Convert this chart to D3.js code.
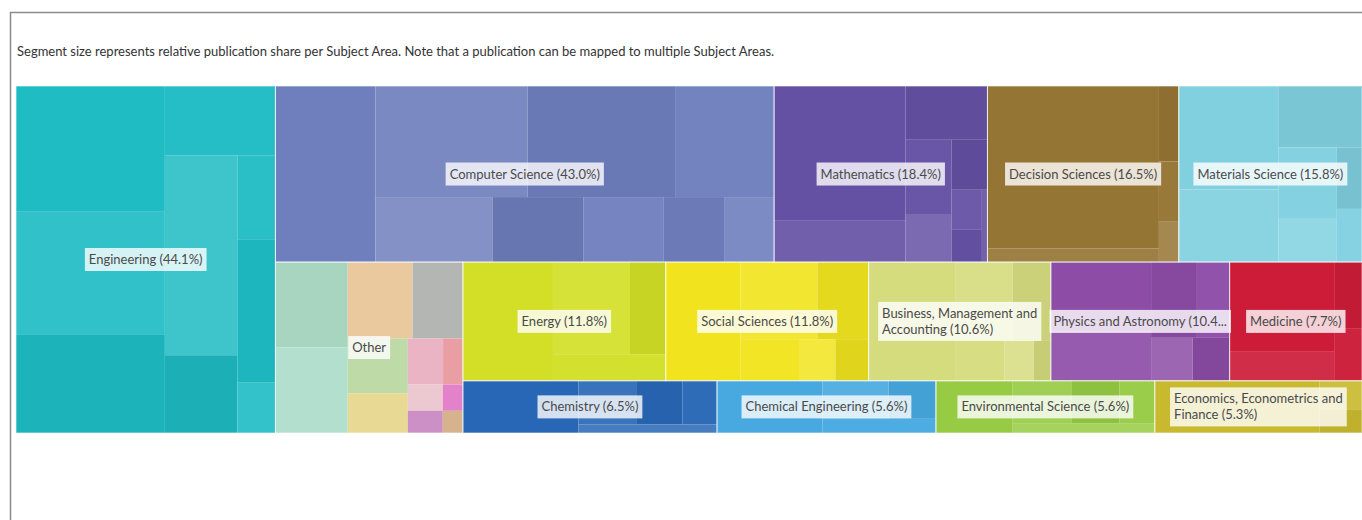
<!DOCTYPE html>
<html>
<head>
<meta charset="utf-8">
<script src="https://cdn.jsdelivr.net/npm/d3@7"></script>
<style>
    body { margin: 0; background: #fff; }
    svg { display: block; font-family: Lato, 'Open Sans', sans-serif; }
</style>
</head>
<body>
<svg id="chart" width="1362" height="520"></svg>
<script>
//Datos
const NOTE = 'Segment size represents relative publication share per Subject Area. Note that a publication can be mapped to multiple Subject Areas.';

const subjects = ['Engineering', 'Computer Science', 'Mathematics', 'Decision Sciences', 'Materials Science', 'Other',
    'Energy', 'Social Sciences', 'Business, Management and Accounting', 'Physics and Astronomy', 'Medicine',
    'Chemistry', 'Chemical Engineering', 'Environmental Science', 'Economics, Econometrics and Finance'];

const shares = [44.1, 43.0, 18.4, 16.5, 15.8, 15.7, 11.8, 11.8, 10.6, 10.4, 7.7, 6.5, 5.6, 5.6, 5.3];

//Sub-areas inside each subject (relative weights)
const subShares = [
    [18.6, 18.2, 14.5, 7.6, 14.4, 5.6, 3.2, 5.4, 1.9],
    [17.6, 16.9, 16.4, 11.0, 7.6, 5.9, 5.2, 4.0, 3.2],
    [17.6, 5.5, 4.4, 3.4, 2.2, 1.8, 1.2, 1.0, 0.4],
    [27.9, 2.3, 1.5, 1.2, 0.8],
    [10.0, 7.0, 5.0, 4.0, 2.5, 1.5, 1.3],
    null,
    [10.7, 7.1, 3.3, 3.0],
    [9.0, 6.0, 4.0, 2.5, 1.5, 1.4],
    [10.3, 4.5, 3.0, 2.0, 1.2, 0.7],
    [7.0, 5.0, 3.5, 2.5, 1.8, 1.6],
    [9.0, 3.0, 1.8, 1.4],
    [6.0, 2.5, 2.0, 1.5, 1.2],
    [5.5, 2.5, 1.8, 1.6],
    [4.0, 2.5, 2.0, 1.5, 1.4],
    [8.5, 1.2, 1.0]
];

//Small subject areas grouped under "Other"
const otherShares = [6.1, 6.1, 4.9, 3.8, 3.25, 2.35, 1.6, 0.9, 0.9, 0.77, 0.52, 0.44];

//Labels that wrap on two lines instead of being cut
const wrapLabels = ['Business, Management and Accounting', 'Economics, Econometrics and Finance'];

//Colores
const subjectColors = ['#1fbcc4', '#6f7fbe', '#6551a4', '#957534', '#80d0e0', '#a9d6c3',
    '#d2df26', '#f1e41e', '#d5dc7e', '#8d4da7', '#cc1c38',
    '#2867b6', '#47a9e0', '#97cb44', '#c9b92f'];
const otherColors = ['#a8d5c0', '#b3dfce', '#eac99e', '#b4b6b4', '#bddaa7', '#e8d995',
    '#ebb4c4', '#e99ea4', '#ecc8d0', '#cc90c6', '#e381cb', '#d6b38d'];
const SHADE = [0, 0.08, -0.05, 0.03, 0.14, -0.07, 0.05, -0.03, 0.09, -0.04];

//Tint toward white or shade toward black
function shade(c, j) {
    let s = SHADE[j % SHADE.length];
    return s >= 0 ? d3.interpolateRgb(c, '#ffffff')(s) : d3.interpolateRgb(c, '#000000')(-s);
}

//Tiling: squarified with alternating direction (column, row, column...)
function ratio(a, b) { return Math.max(a / b, b / a); }

function tileAlternate(parent, x0, y0, x1, y1) {
    let nodes = parent.children;
    let scale = (x1 - x0) * (y1 - y0) / parent.value;
    let dir = 0, i = 0;
    while (i < nodes.length) {
        let w = x1 - x0, h = y1 - y0;
        let group = [nodes[i]], sum = nodes[i].value * scale, j = i + 1;
        while (j < nodes.length) {
            let lastArea = group[group.length - 1].value * scale;
            let newSum = sum + nodes[j].value * scale;
            let oldSide = dir === 0 ? sum / h : sum / w;
            let newSide = dir === 0 ? newSum / h : newSum / w;
            if (ratio(newSide, lastArea / newSide) > ratio(oldSide, lastArea / oldSide)) break;
            group.push(nodes[j]);
            sum = newSum;
            j++;
        }
        let last = j >= nodes.length;
        if (dir === 0) {
            let gw = last ? w : sum / h, yy = y0;
            group.forEach(function(n, k) {
                n.x0 = x0; n.x1 = x0 + gw; n.y0 = yy;
                yy = (k === group.length - 1) ? y1 : yy + n.value * scale / gw;
                n.y1 = yy;
            });
            x0 += gw;
        } else {
            let gh = last ? h : sum / w, xx = x0;
            group.forEach(function(n, k) {
                n.y0 = y0; n.y1 = y0 + gh; n.x0 = xx;
                xx = (k === group.length - 1) ? x1 : xx + n.value * scale / gh;
                n.x1 = xx;
            });
            y0 += gh;
        }
        dir = 1 - dir;
        i = j;
    }
}

//Jerarquía
let data = { children: subjects.map(function(name, i) {
    let isOther = name === 'Other';
    let weights = isOther ? otherShares : subShares[i];
    let tot = d3.sum(weights);
    return {
        name: name, share: shares[i], color: subjectColors[i],
        children: weights.map(function(v, j) {
            return { value: shares[i] * v / tot, color: isOther ? otherColors[j] : shade(subjectColors[i], j) };
        })
    };
}) };

let margin = { top: 86, left: 16 },
    width = 1346, height = 347;

let svg = d3.select('#chart');

//Marco
svg.append('path')
    .attr('d', 'M10.5,520 V12.5 H1362')
    .attr('fill', 'none')
    .attr('stroke', '#8a8a8a')
    .attr('stroke-width', 1.5);

svg.append('text')
    .attr('x', 17)
    .attr('y', 56)
    .attr('font-size', 13)
    .attr('fill', '#333')
    .text(NOTE);

let root = d3.hierarchy(data).sum(function(d) { return d.value || 0; });
d3.treemap().size([width, height]).tile(tileAlternate)(root);

let g = svg.append('g').attr('transform', 'translate(' + margin.left + ',' + margin.top + ')');

g.selectAll('.leaf')
    .data(root.leaves())
    .enter()
    .append('rect')
    .attr('class', 'leaf')
    .attr('x', function(d) { return d.x0; })
    .attr('y', function(d) { return d.y0; })
    .attr('width', function(d) { return d.x1 - d.x0; })
    .attr('height', function(d) { return d.y1 - d.y0; })
    .attr('fill', function(d) { return d.data.color; });

g.selectAll('.subject')
    .data(root.children)
    .enter()
    .append('rect')
    .attr('class', 'subject')
    .attr('x', function(d) { return d.x0; })
    .attr('y', function(d) { return d.y0; })
    .attr('width', function(d) { return d.x1 - d.x0; })
    .attr('height', function(d) { return d.y1 - d.y0; })
    .attr('fill', 'none')
    .attr('stroke', 'rgba(255,255,255,0.6)')
    .attr('stroke-width', 1);

//Etiquetas
let labels = g.append('g');
root.children.forEach(function(n) {
    let cw = n.x1 - n.x0, cx = (n.x0 + n.x1) / 2, cy = (n.y0 + n.y1) / 2;
    let txt = n.data.name === 'Other' ? 'Other' : n.data.name + ' (' + n.data.share.toFixed(1) + '%)';
    let lg = labels.append('g');
    let box = lg.append('rect');
    let t = lg.append('text').attr('font-size', 13).attr('fill', '#4a4a4a');
    let measure = function(s) { t.text(s); return t.node().getComputedTextLength(); };
    let maxW = cw - 6;
    let lines = [txt];

    if (measure(txt) > maxW) {
        if (wrapLabels.indexOf(n.data.name) > -1) {
            lines = [];
            let cur = '';
            txt.split(' ').forEach(function(word) {
                let test = cur ? cur + ' ' + word : word;
                if (cur && measure(test) > maxW - 10) { lines.push(cur); cur = word; }
                else { cur = test; }
            });
            lines.push(cur);
        } else {
            let s = txt;
            while (s.length && measure(s + '...') > cw) s = s.slice(0, -1);
            lines = [s.trim() + '...'];
        }
    }

    let widths = lines.map(measure);
    t.text(null);
    let bw = d3.max(widths) + 8, bh = lines.length * 16 + 7;
    let bx = cx - bw / 2, by = cy - bh / 2;

    box.attr('x', bx).attr('y', by).attr('width', bw).attr('height', bh)
        .attr('fill', '#fff').attr('fill-opacity', 0.8);

    lines.forEach(function(l, k) {
        t.append('tspan').attr('x', bx + 4).attr('y', by + 16 + k * 16).text(l);
    });
});
</script>
</body>
</html>
